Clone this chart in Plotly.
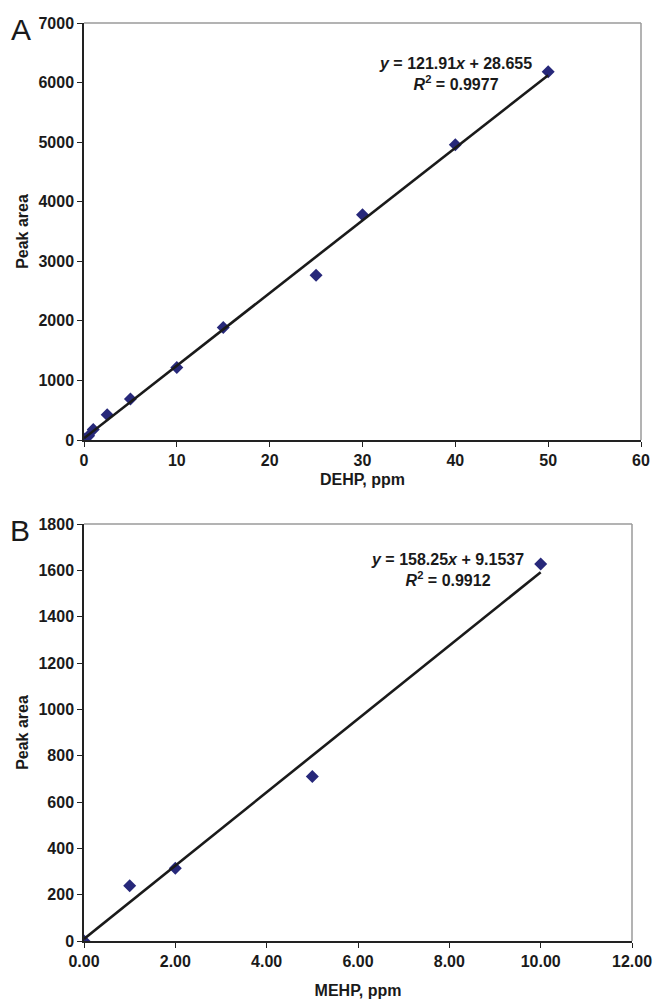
import plotly.graph_objects as go

# Panel A: DEHP calibration
dehp_ppm = [0, 0.1, 0.5, 1, 2.5, 5, 10, 15, 25, 30, 40, 50]
dehp_area = [0, 15, 70, 175, 425, 690, 1215, 1890, 2765, 3780, 4955, 6180]
dehp_slope, dehp_icpt = 121.91, 28.655
dehp_xticks = [0, 10, 20, 30, 40, 50, 60]
dehp_yticks = [0, 1000, 2000, 3000, 4000, 5000, 6000, 7000]

# Panel B: MEHP calibration
mehp_ppm = [0, 1, 2, 5, 10]
mehp_area = [0, 238, 314, 710, 1627]
mehp_slope, mehp_icpt = 158.25, 9.1537
mehp_xticks = [0, 2, 4, 6, 8, 10, 12]
mehp_yticks = [0, 200, 400, 600, 800, 1000, 1200, 1400, 1600, 1800]

W, H = 653, 999
FONT = "Liberation Sans, Arial, sans-serif"
MARK = "#27287a"

def dx(a, b):
    return [a / W, b / W]

def dy(top, bottom):
    return [(H - bottom) / H, (H - top) / H]

fig = go.Figure()

fig.add_trace(go.Scatter(x=dehp_ppm, y=dehp_area, mode="markers",
                         marker=dict(symbol="diamond", size=10, color=MARK),
                         xaxis="x", yaxis="y", showlegend=False))
fig.add_trace(go.Scatter(x=[0, max(dehp_ppm)],
                         y=[dehp_icpt, dehp_slope * max(dehp_ppm) + dehp_icpt],
                         mode="lines", line=dict(color="#1a1a1a", width=2.6),
                         xaxis="x", yaxis="y", showlegend=False))
fig.add_trace(go.Scatter(x=mehp_ppm, y=mehp_area, mode="markers",
                         marker=dict(symbol="diamond", size=10, color=MARK),
                         xaxis="x2", yaxis="y2", showlegend=False))
fig.add_trace(go.Scatter(x=[0, max(mehp_ppm)],
                         y=[mehp_icpt, mehp_slope * max(mehp_ppm) + mehp_icpt],
                         mode="lines", line=dict(color="#1a1a1a", width=2.6),
                         xaxis="x2", yaxis="y2", showlegend=False))

tickfont = dict(family=FONT, size=16, color="#1a1a1a")
titlefont = dict(family=FONT, size=16, color="#1a1a1a")

def b(v):
    return f"<b>{v}</b>"

common = dict(showgrid=False, zeroline=False, showline=True, linecolor="#222",
              linewidth=1.5, ticks="outside", ticklen=5, tickwidth=1.2,
              tickcolor="#222", tickfont=tickfont, automargin=False,
              tickmode="array")

fig.update_layout(
    width=W, height=H, margin=dict(l=0, r=0, t=0, b=0, autoexpand=False),
    paper_bgcolor="white", plot_bgcolor="white",
    xaxis=dict(common, domain=dx(84, 641), range=[0, 60],
               tickvals=dehp_xticks, ticktext=[b(v) for v in dehp_xticks],
               anchor="y",
               title=dict(text="<b>DEHP, ppm</b>", font=titlefont, standoff=6)),
    yaxis=dict(common, domain=dy(23, 440), range=[0, 7000],
               tickvals=dehp_yticks, ticktext=[b(v) for v in dehp_yticks],
               anchor="x",
               title=dict(text="<b>Peak area</b>", font=titlefont, standoff=6)),
    xaxis2=dict(common, domain=dx(84, 632), range=[0, 12],
                tickvals=mehp_xticks, ticktext=[b(f"{v:.2f}") for v in mehp_xticks],
                anchor="y2",
                title=dict(text="<b>MEHP, ppm</b>", font=titlefont, standoff=16)),
    yaxis2=dict(common, domain=dy(524, 941), range=[0, 1800],
                tickvals=mehp_yticks, ticktext=[b(v) for v in mehp_yticks],
                anchor="x2",
                title=dict(text="<b>Peak area</b>", font=titlefont, standoff=6)),
)

# gray top/right frame
for xr, yr in (("x", "y"), ("x2", "y2")):
    fig.add_shape(type="line", xref=f"{xr} domain", yref=f"{yr} domain",
                  x0=0, x1=1, y0=1, y1=1, line=dict(color="#9a9a9a", width=1.5))
    fig.add_shape(type="line", xref=f"{xr} domain", yref=f"{yr} domain",
                  x0=1, x1=1, y0=0, y1=1, line=dict(color="#9a9a9a", width=1.5))

eqfont = dict(family=FONT, size=16, color="#1a1a1a")
fig.add_annotation(xref="paper", yref="paper", x=455 / W, y=1 - 74 / H,
                   xanchor="center", yanchor="middle",
                   showarrow=False, align="center", font=eqfont,
                   text=f"<b><i>y</i> = {dehp_slope}<i>x</i> + {dehp_icpt}<br><i>R</i><sup>2</sup> = 0.9977</b>")
fig.add_annotation(xref="paper", yref="paper", x=447 / W, y=1 - 570 / H,
                   xanchor="center", yanchor="middle",
                   showarrow=False, align="center", font=eqfont,
                   text=f"<b><i>y</i> = {mehp_slope}<i>x</i> + {mehp_icpt}<br><i>R</i><sup>2</sup> = 0.9912</b>")

letterfont = dict(family=FONT, size=30, color="#1a1a1a")
fig.add_annotation(xref="paper", yref="paper", x=21 / W, y=1 - 30 / H,
                   xanchor="center", yanchor="middle",
                   showarrow=False, text="A", font=letterfont)
fig.add_annotation(xref="paper", yref="paper", x=20 / W, y=1 - 530 / H,
                   xanchor="center", yanchor="middle",
                   showarrow=False, text="B", font=letterfont)

fig.write_html("out.html", config={"displayModeBar": False},
               post_script="document.body.style.margin='0px';")
